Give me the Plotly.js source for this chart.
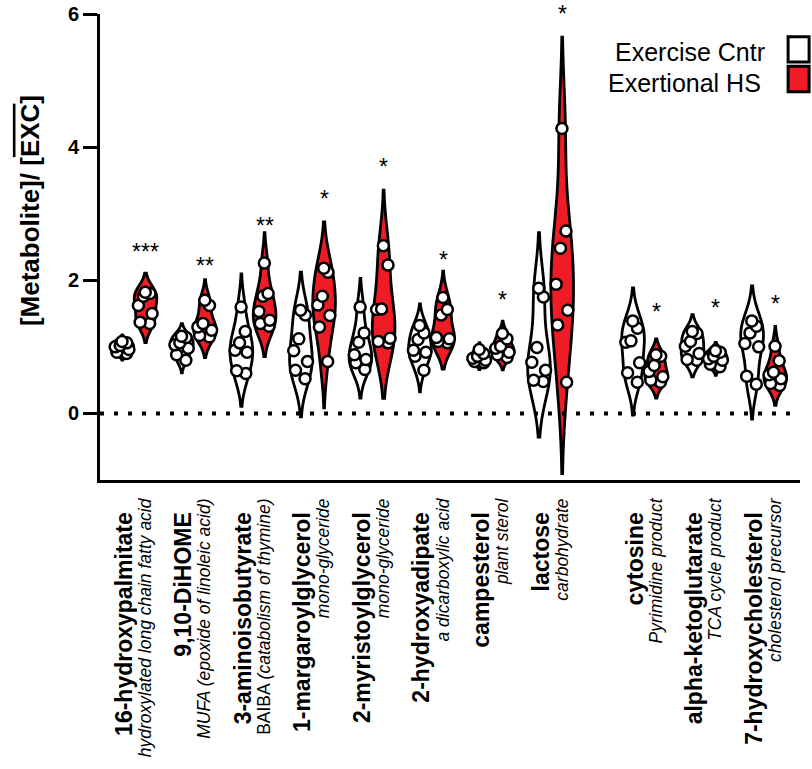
<!DOCTYPE html>
<html>
<head>
<meta charset="utf-8">
<script src="https://cdn.plot.ly/plotly-3.0.1.min.js"></script>
<style>
  html, body { margin: 0; padding: 0; background: #fff; }
  #chart { width: 812px; height: 769px; }
</style>
</head>
<body>
<div id="chart"></div>
<script>
// metabolite names and short descriptions
const names = ['16-hydroxypalmitate', '9,10-DiHOME', '3-aminoisobutyrate', '1-margaroylglycerol',
  '2-myristoylglycerol', '2-hydroxyadipate', 'campesterol', 'lactose',
  'cytosine', 'alpha-ketoglutarate', '7-hydroxycholesterol'];
const descs = ['<i>hydroxylated long chain fatty acid</i>', '<i>MUFA (epoxide of linoleic acid)</i>',
  'BAIBA <i>(catabolism of thymine)</i>', '<i>mono-glyceride</i>', '<i>mono-glyceride</i>',
  '<i>a dicarboxylic acid</i>', '<i>plant sterol</i>', '<i>carbohydrate</i>',
  '<i>Pyrimidine product</i>', '<i>TCA cycle product</i>', '<i>cholesterol precursor</i>'];

// [Metabolite]/mean[EXC], one list per metabolite
const exerciseCntr = [
  [1.08, 1.06, 1.02, 1.00, 0.96, 0.92, 0.90],
  [1.16, 1.14, 1.06, 1.03, 0.98, 0.88, 0.80],
  [1.60, 1.23, 1.06, 0.95, 0.92, 0.64, 0.60],
  [1.55, 1.48, 1.12, 0.94, 0.78, 0.65, 0.52],
  [1.60, 1.21, 1.07, 0.88, 0.81, 0.76, 0.66],
  [1.32, 1.21, 1.11, 0.95, 0.92, 0.86, 0.65],
  [0.96, 0.90, 0.86, 0.83, 0.80, 0.78, 0.76],
  [1.88, 1.75, 0.99, 0.77, 0.65, 0.50, 0.48],
  [1.39, 1.28, 1.09, 1.07, 0.76, 0.61, 0.47],
  [1.23, 1.20, 1.08, 1.01, 0.90, 0.81, 0.80],
  [1.39, 1.31, 1.21, 1.05, 1.00, 0.56, 0.44]
];
const exertionalHS = [
  [1.82, 1.80, 1.76, 1.62, 1.50, 1.37, 1.35],
  [1.70, 1.62, 1.35, 1.30, 1.25, 1.17, 1.15],
  [2.26, 1.80, 1.76, 1.53, 1.40, 1.35, 1.31],
  [2.18, 2.12, 1.76, 1.63, 1.47, 1.30, 0.78],
  [2.52, 2.23, 1.57, 1.56, 1.13, 1.08, 1.06],
  [1.74, 1.56, 1.48, 1.14, 1.12, 1.08, 1.06],
  [1.20, 1.12, 1.01, 0.98, 0.92, 0.88, 0.84],
  [4.28, 2.74, 2.48, 1.94, 1.55, 1.33, 0.47],
  [0.88, 0.86, 0.72, 0.63, 0.55, 0.50, 0.47],
  [0.94, 0.92, 0.86, 0.82, 0.80, 0.74, 0.70],
  [1.01, 0.79, 0.62, 0.58, 0.52, 0.45, 0.42]
];

// significance marks above the HS violins
const sigMarks = ['***', '**', '**', '*', '*', '*', '*', '*', '*', '*', '*'];
const sigY = [2.42, 2.22, 2.82, 3.22, 3.70, 2.30, 1.70, 6.0, 1.52, 1.58, 1.64];

const RED = '#ee1c25';

// x positions: wider gap before cytosine
const pos = names.map((_, i) => (i < 8 ? i : i + 0.58));
const off = 0.195;

function violin(vals, x0, name, fill, xaxis) {
  return {
    type: 'violin',
    name: name,
    scalegroup: name,
    x0: x0,
    y: vals,
    xaxis: xaxis,
    width: 0.38,
    fillcolor: fill,
    line: { color: '#000', width: 2.8 },
    points: 'all',
    pointpos: 0,
    jitter: 0.75,
    marker: { size: 11, color: '#fff', line: { color: '#000', width: 2.5 } },
    box: { visible: false },
    meanline: { visible: false },
    scalemode: 'width',
    spanmode: 'soft',
    hoveron: 'points',
    showlegend: false
  };
}

const data = [];
names.forEach((n, i) => {
  data.push(violin(exerciseCntr[i], pos[i] - off, n + ' / Exercise Cntr', '#fff', 'x'));
  data.push(violin(exertionalHS[i], pos[i] + off, n + ' / Exertional HS', RED, 'x2'));
});

const annotations = sigMarks.map((m, i) => ({
  x: pos[i] + off, y: sigY[i], xref: 'x', yref: 'y',
  text: m, showarrow: false, font: { size: 23, color: '#000' }
}));

// y title
annotations.push({
  xref: 'paper', yref: 'paper', x: -0.1, y: 0.577, xanchor: 'center', yanchor: 'middle',
  textangle: -90,
  text: '<b>[Metabolite]/ [<span style="text-decoration:overline">EXC</span>]</b>',
  showarrow: false, font: { size: 26, color: '#000' }
});

// legend (text left of the swatch)
annotations.push(
  { xref: 'paper', yref: 'paper', x: 0.953, y: 0.918, xanchor: 'right', yanchor: 'middle',
    showarrow: false, text: 'Exercise Cntr', font: { size: 25, color: '#000' } },
  { xref: 'paper', yref: 'paper', x: 0.947, y: 0.852, xanchor: 'right', yanchor: 'middle',
    showarrow: false, text: 'Exertional HS', font: { size: 25, color: '#000' } }
);

const shapes = [
  { type: 'line', xref: 'paper', yref: 'y', x0: 0, x1: 1, y0: 0, y1: 0,
    line: { color: '#000', width: 4, dash: '4px,10px' } },
  { type: 'rect', xref: 'paper', yref: 'paper', x0: 0.983, x1: 1.013, y0: 0.897, y1: 0.951,
    fillcolor: '#fff', line: { color: '#000', width: 3 } },
  { type: 'rect', xref: 'paper', yref: 'paper', x0: 0.983, x1: 1.013, y0: 0.833, y1: 0.888,
    fillcolor: RED, line: { color: '#000', width: 3 } }
];

const xRange = [-0.57, 11.19];

const layout = {
  width: 812,
  height: 769,
  margin: { l: 100, r: 12, t: 14, b: 289 },
  paper_bgcolor: '#fff',
  plot_bgcolor: '#fff',
  font: { family: 'Liberation Sans, Arial, sans-serif', color: '#000' },
  violinmode: 'overlay',
  showlegend: false,
  xaxis: {
    range: xRange,
    showgrid: false,
    zeroline: false,
    showline: true,
    linecolor: '#000',
    linewidth: 3,
    ticks: '',
    tickmode: 'array',
    tickvals: pos.map(p => p - 0.16),
    ticktext: names.map(n => '<b>' + n + '</b>'),
    tickangle: -90,
    tickfont: { size: 23, color: '#000' },
    ticklabelstandoff: 20
  },
  xaxis2: {
    overlaying: 'x',
    anchor: 'y',
    side: 'bottom',
    range: xRange,
    showgrid: false,
    zeroline: false,
    showline: false,
    ticks: '',
    tickmode: 'array',
    tickvals: pos.map(p => p + 0.19),
    ticktext: descs,
    tickangle: -90,
    tickfont: { size: 17.5, color: '#000' },
    ticklabelstandoff: 14
  },
  yaxis: {
    range: [-1, 6],
    tickvals: [0, 2, 4, 6],
    ticktext: ['<b>0</b>', '<b>2</b>', '<b>4</b>', '<b>6</b>'],
    showgrid: false,
    zeroline: false,
    showline: true,
    linecolor: '#000',
    linewidth: 3,
    ticks: 'outside',
    ticklen: 14,
    tickwidth: 3,
    tickcolor: '#000',
    tickfont: { size: 20, color: '#000' }
  },
  annotations: annotations,
  shapes: shapes
};

Plotly.newPlot('chart', data, layout, { displayModeBar: false, staticPlot: true });
</script>
</body>
</html>
